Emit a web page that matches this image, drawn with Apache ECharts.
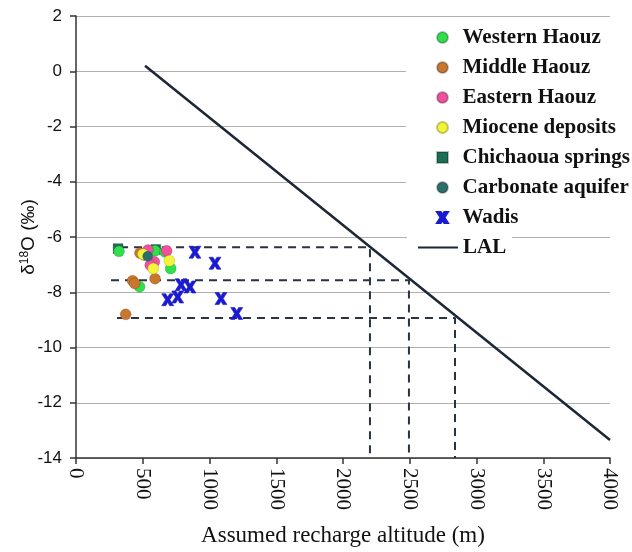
<!DOCTYPE html>
<html>
<head>
<meta charset="utf-8">
<script src="https://cdn.jsdelivr.net/npm/echarts@6/dist/echarts.min.js"></script>
<style>html,body{margin:0;padding:0;background:#fff}#c{width:632px;height:552px}</style>
</head>
<body>
<div id="c"></div>
<script>
// ---- data (altitude m, delta18O permil) ----
var westernHaouz = [[322,-6.52],[592,-6.50],[667,-6.54],[709,-7.14],[476,-7.80]];
var middleHaouz = [[479,-6.58],[509,-6.65],[592,-7.51],[424,-7.58],[440,-7.68],[372,-8.80]];
var easternHaouz = [[539,-6.47],[679,-6.50],[587,-6.90],[556,-7.02]];
var mioceneDeposits = [[502,-6.62],[699,-6.86],[579,-7.14]];
var chichaouaSprings = [[315,-6.42],[598,-6.45]];
var carbonateAquifer = [[537,-6.70]];
var wadis = [[891,-6.55],[1041,-6.95],[787,-7.73],[854,-7.81],[762,-8.17],[687,-8.27],[1086,-8.23],[1204,-8.77]];
var lal = [[517,0.2],[4000,-13.35]];
var guide1 = [[330,-6.37],[2202,-6.37],[2202,-14]];
var guide2 = [[262,-7.57],[2494,-7.57],[2494,-14]];
var guide3 = [[307,-8.93],[2839,-8.93],[2839,-14]];
var seriesNames = ['Western Haouz','Middle Haouz','Eastern Haouz','Miocene deposits','Chichaoua springs','Carbonate aquifer','Wadis'];
var lineName = 'LAL';
var xName = 'Assumed recharge altitude (m)';

var chart = echarts.init(document.getElementById('c'));
var xPath = 'path://M0,0 L3.4,0 L5,2.8 L6.6,0 L10,0 L6.8,5 L10,10 L6.6,10 L5,7.2 L3.4,10 L0,10 L3.2,5 Z';
function sc(name, data, color, symbol, size, border) {
  return {
    type: 'scatter', name: name, data: data, symbol: symbol, symbolSize: size, z: 5,
    itemStyle: { color: color, borderColor: border || 'rgba(0,0,0,0.25)', borderWidth: 0.6, opacity: 1 }
  };
}
function guide(data) {
  return {
    type: 'line', data: data, symbol: 'none', z: 2, silent: true,
    lineStyle: { color: '#2b3240', width: 2, type: [8, 6] }
  };
}
var legendText = { fontFamily: 'Liberation Serif', fontSize: 21, lineHeight: 20, fontWeight: 'bold', color: '#111' };
var option = {
  animation: false,
  backgroundColor: '#fff',
  grid: { left: 76, right: 22, top: 16, bottom: 92 },
  xAxis: {
    type: 'value', min: 0, max: 4000, interval: 500,
    name: xName, nameLocation: 'middle', nameGap: 66, nameMoveOverlap: false,
    nameTextStyle: { fontFamily: 'Liberation Serif', fontSize: 23, color: '#111' },
    axisLine: { show: true, onZero: false, lineStyle: { color: '#333', width: 1.5 } },
    axisTick: { show: true, length: 6, lineStyle: { color: '#333', width: 1.5 } },
    axisLabel: { rotate: -90, margin: 10, fontFamily: 'Liberation Serif', fontSize: 21, color: '#111',
      formatter: function (v) { return String(v); } },
    splitLine: { show: false }
  },
  yAxis: {
    type: 'value', min: -14, max: 2, interval: 2,
    name: '{a|δ}{s|18}{a|O (‰)}', nameLocation: 'middle', nameGap: 38, nameRotate: 90, nameMoveOverlap: false,
    nameTextStyle: { rich: {
      a: { fontFamily: 'Liberation Sans', fontSize: 19, color: '#111' },
      s: { fontFamily: 'Liberation Sans', fontSize: 12, color: '#111', verticalAlign: 'top' }
    } },
    axisLine: { show: true, onZero: false, lineStyle: { color: '#333', width: 1.5 } },
    axisTick: { show: true, length: 6, lineStyle: { color: '#333', width: 1.5 } },
    axisLabel: { margin: 14, fontFamily: 'Liberation Sans', fontSize: 17, color: '#111' },
    splitLine: { show: true, lineStyle: { color: '#b0b0b0', width: 1 } }
  },
  legend: [
    {
      data: seriesNames.map(function (n, i) {
        return i === 4 ? { name: n, icon: 'path://M0,0H10V10H0Z' } : { name: n };
      }),
      orient: 'vertical', left: 406, top: 21,
      padding: [6, 4, 6, 30], itemGap: 9, itemWidth: 30, itemHeight: 11,
      backgroundColor: '#fff', textStyle: legendText
    },
    {
      data: [{ name: lineName, icon: 'path://M0,0H40V2.2H0Z' }],
      orient: 'vertical', left: 407, top: 231,
      padding: [6, 6, 6, 11], itemWidth: 40, itemHeight: 14,
      backgroundColor: '#fff', textStyle: legendText
    }
  ],
  series: [
    guide(guide1), guide(guide2), guide(guide3),
    { type: 'line', name: lineName, data: lal, symbol: 'none', showSymbol: false, z: 3,
      lineStyle: { color: '#1c2636', width: 2.5 }, itemStyle: { color: '#1c2636' } },
    sc(seriesNames[4], chichaouaSprings, '#1d6e57', 'rect', 10),
    sc(seriesNames[0], westernHaouz, '#2fe04a', 'circle', 11),
    sc(seriesNames[1], middleHaouz, '#c8772e', 'circle', 11),
    sc(seriesNames[2], easternHaouz, '#f2509e', 'circle', 11),
    sc(seriesNames[3], mioceneDeposits, '#f4f43a', 'circle', 11, 'rgba(120,120,0,0.4)'),
    sc(seriesNames[5], carbonateAquifer, '#2b6f6c', 'circle', 10),
    sc(seriesNames[6], wadis, '#1a1ad0', xPath, 12, '#1a1ad0')
  ]
};
chart.setOption(option);
</script>
</body>
</html>
